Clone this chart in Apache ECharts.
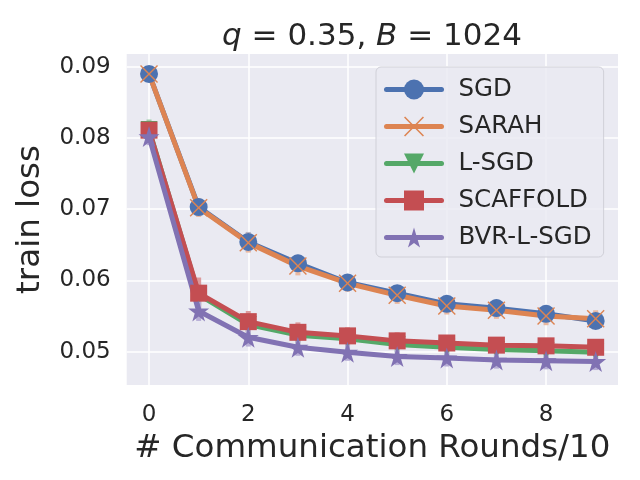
<!DOCTYPE html>
<html>
<head>
<meta charset="utf-8">
<script src="https://cdn.jsdelivr.net/npm/echarts@6/dist/echarts.min.js"></script>
<style>
  html, body { margin: 0; padding: 0; background: #fff; }
  #main { width: 640px; height: 480px; }
</style>
</head>
<body>
<div id="main"></div>
<script>
// data
var rounds = [0, 1, 2, 3, 4, 5, 6, 7, 8, 9];
var xTicks = [0, 2, 4, 6, 8];
var yTicks = [0.05, 0.06, 0.07, 0.08, 0.09];
var names = ["SGD", "SARAH", "L-SGD", "SCAFFOLD", "BVR-L-SGD"];

var sgd      = [0.0890, 0.0703, 0.0654, 0.0624, 0.0597, 0.0582, 0.0567, 0.0561, 0.0553, 0.0543];
var sarah    = [0.0890, 0.0702, 0.0653, 0.0620, 0.0596, 0.0579, 0.0564, 0.0558, 0.0550, 0.0546];
var lsgd     = [0.0812, 0.0580, 0.0538, 0.0523, 0.0518, 0.0510, 0.0506, 0.0503, 0.0501, 0.0499];
var scaffold = [0.0811, 0.0582, 0.0542, 0.0527, 0.0522, 0.0515, 0.0512, 0.0509, 0.0508, 0.0506];
var bvr      = [0.0802, 0.0557, 0.0520, 0.0506, 0.0499, 0.0493, 0.0491, 0.0488, 0.0487, 0.0486];

// half length of the error bars
var sgdErr      = [0.0008, 0.0012, 0.0014, 0.0012, 0.0012, 0.0011, 0.0011, 0.0012, 0.0012, 0.0011];
var sarahErr    = [0.0008, 0.0013, 0.0014, 0.0013, 0.0012, 0.0012, 0.0012, 0.0012, 0.0013, 0.0012];
var lsgdErr     = [0.0014, 0.0015, 0.0013, 0.0012, 0.0011, 0.0011, 0.0011, 0.0011, 0.0011, 0.0011];
var scaffoldErr = [0.0013, 0.0022, 0.0015, 0.0014, 0.0012, 0.0012, 0.0011, 0.0011, 0.0011, 0.0011];
var bvrErr      = [0.0012, 0.0014, 0.0013, 0.0012, 0.0012, 0.0012, 0.0012, 0.0012, 0.0012, 0.0012];

var colors = ["#4C72B0", "#DD8452", "#55A868", "#C44E52", "#8172B3"];
var errColors = ["#9bb0d6", "#eab89f", "#9fceac", "#dc9a9c", "#b7aed6"];

var xMarker = "path://M0,1 L1,0 L9,8 L17,0 L18,1 L10,9 L18,17 L17,18 L9,10 L1,18 L0,17 L8,9 Z";
var starMarker = "path://M50,0 L61,35 L98,35 L68,57 L79,91 L50,70 L21,91 L32,57 L2,35 L39,35 Z";
var triDown = "path://M0,0 L20,0 L10,17 Z";
var symbols = ["circle", xMarker, triDown, "rect", starMarker];
var sizes = [18, 18, 17, 17, 21];

var allData = [sgd, sarah, lsgd, scaffold, bvr];
var allErr = [sgdErr, sarahErr, lsgdErr, scaffoldErr, bvrErr];

var chartDom = document.getElementById("main");
var myChart = echarts.init(chartDom);
var font = "DejaVu Sans";
var ink = "#262626";

var series = [];
allData.forEach(function (vals, k) {
  var errData = rounds.map(function (r, i) {
    return [r, vals[i] - allErr[k][i], vals[i] + allErr[k][i]];
  });
  series.push({
    type: "custom",
    name: names[k] + "-err",
    z: 2,
    silent: true,
    data: errData,
    renderItem: function (params, api) {
      var lo = api.coord([api.value(0), api.value(1)]);
      var hi = api.coord([api.value(0), api.value(2)]);
      return {
        type: "rect",
        shape: { x: lo[0] - 2.5, y: hi[1], width: 5, height: lo[1] - hi[1] },
        style: { fill: errColors[k] }
      };
    }
  });
});
allData.forEach(function (vals, k) {
  series.push({
    type: "line",
    name: names[k],
    z: 3,
    data: rounds.map(function (r, i) { return [r, vals[i]]; }),
    symbol: symbols[k],
    symbolSize: sizes[k],
    showAllSymbol: true,
    lineStyle: { width: 5, color: colors[k], cap: "round", join: "round" },
    itemStyle: { color: colors[k], opacity: 1 },
    emphasis: { disabled: true }
  });
});

var option = {
  animation: false,
  backgroundColor: "#ffffff",
  textStyle: { fontFamily: font, color: ink },
  title: {
    text: "{i|q} = 0.35, {i|B} = 1024",
    left: 367,
    textAlign: "center",
    top: 16,
    textStyle: {
      fontFamily: font,
      fontSize: 31,
      fontWeight: "normal",
      color: ink,
      rich: {
        i: { fontFamily: font, fontSize: 31, fontStyle: "italic", color: ink }
      }
    }
  },
  legend: {
    data: names,
    orient: "vertical",
    left: 376,
    top: 67,
    width: 228,
    padding: [10, 12, 7, 8],
    itemWidth: 55,
    itemHeight: 25,
    itemGap: 12,
    backgroundColor: "rgba(234,234,242,0.85)",
    borderColor: "#d0d0d8",
    borderWidth: 1,
    borderRadius: 5,
    lineStyle: { width: 5 },
    textStyle: { fontFamily: font, fontSize: 24.5, color: ink, padding: [0, 0, 0, 12] }
  },
  grid: {
    left: 126.7,
    right: 22,
    top: 54,
    bottom: 95,
    containLabel: false,
    show: true,
    backgroundColor: "#EAEAF2",
    borderWidth: 0
  },
  xAxis: {
    type: "value",
    min: -0.45,
    max: 9.45,
    name: "# Communication Rounds/10",
    nameLocation: "middle",
    nameGap: 40,
    nameTextStyle: { fontFamily: font, fontSize: 32.5, color: ink },
    axisLine: { show: false },
    axisTick: { show: false, customValues: xTicks },
    axisLabel: {
      customValues: xTicks,
      margin: 19,
      fontFamily: font,
      fontSize: 23,
      color: ink
    },
    splitLine: { show: true, lineStyle: { color: "#ffffff", width: 1.5 } }
  },
  yAxis: {
    type: "value",
    min: 0.0453,
    max: 0.0918,
    name: "train loss",
    nameLocation: "middle",
    nameGap: 80,
    nameTextStyle: { fontFamily: font, fontSize: 32.5, color: ink },
    axisLine: { show: false },
    axisTick: { show: false, customValues: yTicks },
    axisLabel: {
      customValues: yTicks,
      margin: 16,
      fontFamily: font,
      fontSize: 23,
      color: ink,
      formatter: function (v) { return v.toFixed(2); }
    },
    splitLine: { show: true, lineStyle: { color: "#ffffff", width: 1.5 } }
  },
  series: series
};

option && myChart.setOption(option);
</script>
</body>
</html>
